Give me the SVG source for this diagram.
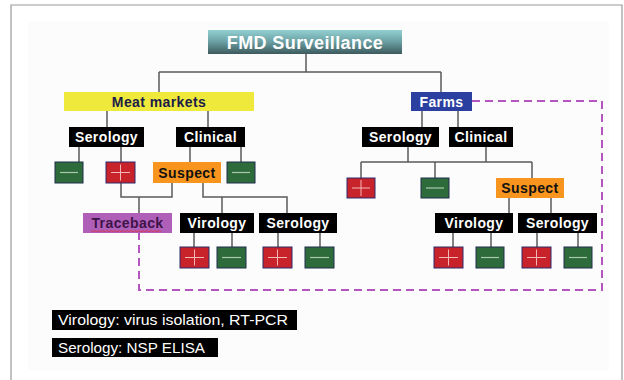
<svg xmlns="http://www.w3.org/2000/svg" width="624" height="380" viewBox="0 0 624 380">
<defs>
<linearGradient id="fmdGrad" x1="0" y1="0" x2="0" y2="1">
<stop offset="0" stop-color="#93d0d2"/>
<stop offset="0.5" stop-color="#6a9fa2"/>
<stop offset="1" stop-color="#3d5a5d"/>
</linearGradient>
<style>
.lbl{font-family:"Liberation Sans",Arial,sans-serif;font-weight:bold;font-size:14px;letter-spacing:0.4px;text-anchor:middle}
.w{fill:#ffffff}
.blk{fill:#000000}
.plus{fill:#c8232b;stroke:#2d2a6b;stroke-width:1}
.minus{fill:#2e6b3b;stroke:#1f2f4f;stroke-width:1}
.psym{stroke:#f2b8b8;stroke-width:1;fill:none}
.msym{stroke:#a9c9ad;stroke-width:1.2;fill:none}
.conn{stroke:#5a5a5a;stroke-width:1.5;fill:none}
.dash{stroke:#b455c0;stroke-width:2;fill:none;stroke-dasharray:8 5}
.leg{font-family:"Liberation Sans",Arial,sans-serif;font-size:15px;fill:#ffffff}
</style>
</defs>
<rect x="0" y="0" width="624" height="380" fill="#ffffff"/>
<rect x="28" y="22" width="581" height="348" fill="#fcfcfc"/>
<path d="M11 380 V5 H622 V380" fill="none" stroke="#9a9a9a" stroke-width="1.2"/>

<g id="connectors">
<path class="conn" d="M306 54 V72 M159 72 H441 M159 72 V92 M441 72 V92"/>
<path class="conn" d="M107 111 V127 M208 111 V127 M422 111 V127 M458 111 V127"/>
<path class="conn" d="M79 147 V162 M121 147 V162 M190 147 V162 M241 147 V162"/>
<path class="conn" d="M121 183 V197 H172 V183 M139 197 V213"/>
<path class="conn" d="M203 183 V197 H287 V213 M222 197 V213"/>
<path class="conn" d="M194 233 V247 M232 233 V247 M278 233 V247 M320 233 V247"/>
<path class="conn" d="M408 147 V162 M486 147 V162 M361 162 H532 M361 162 V178 M435 162 V178 M532 162 V178"/>
<path class="conn" d="M509 198 V213 M551 198 V213"/>
<path class="conn" d="M453 233 V247 M491 233 V247 M537 233 V247 M578 233 V247"/>
<path class="dash" d="M472 101 H602 V290 H139 V233"/>
</g>

<g id="fmd">
<rect x="208" y="30" width="194" height="24" fill="url(#fmdGrad)"/>
<text x="305" y="48.5" class="lbl w" style="font-size:18px">FMD Surveillance</text>
</g>

<g id="meat-markets">
<rect x="64" y="92" width="190" height="19" fill="#efe93c"/>
<text x="159" y="106.5" class="lbl" fill="#1c1c48">Meat markets</text>
</g>
<g id="farms">
<rect x="411" y="92" width="61" height="19" fill="#2a3fa0"/>
<text x="441.5" y="106.5" class="lbl w">Farms</text>
</g>

<g id="mm-serology">
<rect x="69" y="127" width="75" height="20" class="blk"/>
<text x="106.5" y="142" class="lbl w">Serology</text>
</g>
<g id="mm-clinical">
<rect x="176" y="127" width="69" height="20" class="blk"/>
<text x="210.5" y="142" class="lbl w">Clinical</text>
</g>
<g id="mm-ser-neg">
<rect x="55" y="162" width="28" height="21" class="minus"/>
<path class="msym" d="M60 172.5 H78"/>
</g>
<g id="mm-ser-pos">
<rect x="106" y="162" width="29" height="21" class="plus"/>
<path class="psym" d="M111 172.5 H130 M120.5 164.5 V180.5"/>
</g>
<g id="mm-suspect">
<rect x="153" y="162" width="68" height="21" fill="#f7951f"/>
<text x="187" y="177.5" class="lbl" fill="#111111">Suspect</text>
</g>
<g id="mm-cli-neg">
<rect x="227" y="162" width="28" height="21" class="minus"/>
<path class="msym" d="M232 172.5 H250"/>
</g>
<g id="traceback">
<rect x="83" y="213" width="89" height="20" fill="#b05fb8"/>
<text x="127.5" y="228" class="lbl" fill="#3e1449">Traceback</text>
<path d="M91 230.5 l2 1.5 l2 -1.5 l2 1.5 l2 -1.5 l2 1.5 l2 -1.5 l2 1.5 l2 -1.5 l2 1.5 l2 -1.5 l2 1.5 l2 -1.5 l2 1.5 l2 -1.5 l2 1.5 l2 -1.5 l2 1.5 l2 -1.5 l2 1.5 l2 -1.5 l2 1.5 l2 -1.5 l2 1.5 l2 -1.5 l2 1.5 l2 -1.5 l2 1.5 l2 -1.5 l2 1.5 l2 -1.5 l2 1.5 l2 -1.5 l2 1.5 l2 -1.5 l2 1.5" fill="none" stroke="#e0303a" stroke-width="0.8"/>
</g>
<g id="mm-virology">
<rect x="180" y="213" width="74" height="20" class="blk"/>
<text x="217" y="228" class="lbl w">Virology</text>
</g>
<g id="mm-serology2">
<rect x="259" y="213" width="78" height="20" class="blk"/>
<text x="298" y="228" class="lbl w">Serology</text>
</g>
<g id="mm-vir-pos">
<rect x="180" y="247" width="29" height="21" class="plus"/>
<path class="psym" d="M185 257.5 H204 M194.5 249.5 V265.5"/>
</g>
<g id="mm-vir-neg">
<rect x="217" y="247" width="29" height="21" class="minus"/>
<path class="msym" d="M222 257.5 H241"/>
</g>
<g id="mm-ser2-pos">
<rect x="263" y="247" width="29" height="21" class="plus"/>
<path class="psym" d="M268 257.5 H287 M277.5 249.5 V265.5"/>
</g>
<g id="mm-ser2-neg">
<rect x="305" y="247" width="29" height="21" class="minus"/>
<path class="msym" d="M310 257.5 H329"/>
</g>

<g id="f-serology">
<rect x="362" y="127" width="77" height="20" class="blk"/>
<text x="400.5" y="142" class="lbl w">Serology</text>
</g>
<g id="f-clinical">
<rect x="449" y="127" width="64" height="20" class="blk"/>
<text x="481" y="142" class="lbl w">Clinical</text>
</g>
<g id="f-pos">
<rect x="347" y="178" width="28" height="20" class="plus"/>
<path class="psym" d="M352 188 H370 M361 180 V196"/>
</g>
<g id="f-neg">
<rect x="421" y="178" width="28" height="20" class="minus"/>
<path class="msym" d="M426 188 H444"/>
</g>
<g id="f-suspect">
<rect x="496" y="178" width="68" height="20" fill="#f7951f"/>
<text x="530" y="193" class="lbl" fill="#111111">Suspect</text>
</g>
<g id="f-virology">
<rect x="435" y="213" width="78" height="20" class="blk"/>
<text x="474" y="228" class="lbl w">Virology</text>
</g>
<g id="f-serology2">
<rect x="518" y="213" width="79" height="20" class="blk"/>
<text x="557.5" y="228" class="lbl w">Serology</text>
</g>
<g id="f-vir-pos">
<rect x="434" y="247" width="29" height="21" class="plus"/>
<path class="psym" d="M439 257.5 H458 M448.5 249.5 V265.5"/>
</g>
<g id="f-vir-neg">
<rect x="476" y="247" width="28" height="21" class="minus"/>
<path class="msym" d="M481 257.5 H499"/>
</g>
<g id="f-ser-pos">
<rect x="522" y="247" width="29" height="21" class="plus"/>
<path class="psym" d="M527 257.5 H546 M536.5 249.5 V265.5"/>
</g>
<g id="f-ser-neg">
<rect x="564" y="247" width="28" height="21" class="minus"/>
<path class="msym" d="M569 257.5 H587"/>
</g>

<g id="legend-virology">
<rect x="52" y="310" width="245" height="20" fill="#000000"/>
<text x="58" y="325" class="leg" textLength="230" lengthAdjust="spacingAndGlyphs">Virology: virus isolation, RT-PCR</text>
</g>
<g id="legend-serology">
<rect x="52" y="338" width="166" height="19" fill="#000000"/>
<text x="58" y="353" class="leg" textLength="147" lengthAdjust="spacingAndGlyphs">Serology: NSP ELISA</text>
</g>
</svg>
